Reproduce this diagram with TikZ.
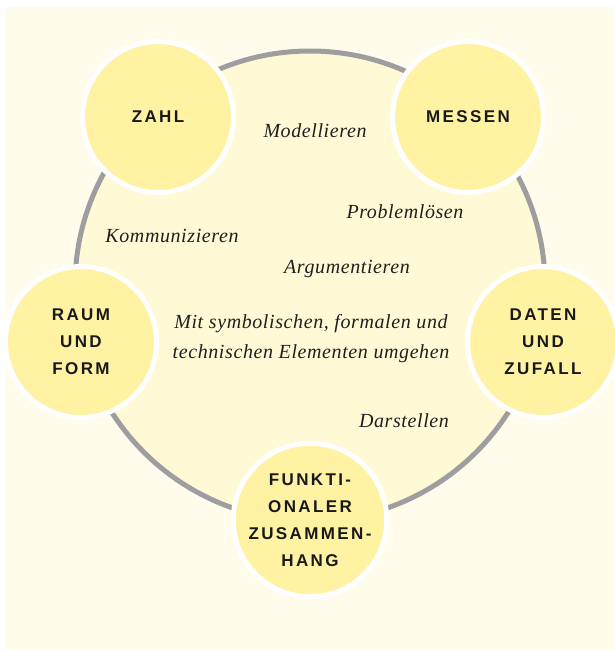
\documentclass[tikz,border=0pt]{standalone}
\usepackage{fontspec}
\setmainfont{Liberation Serif}
\newfontfamily\areafont[LetterSpace=14]{Liberation Sans}
\newfontfamily\skillfont[LetterSpace=3]{Liberation Serif}
\definecolor{paper}{RGB}{255,252,235}
\definecolor{cream}{RGB}{255,249,214}
\definecolor{lemon}{RGB}{255,243,163}
\definecolor{ring}{RGB}{158,158,160}
\begin{document}
\begin{tikzpicture}[x=1pt,y=-1pt,
  area/.style={circle,fill=lemon,draw=white,line width=5pt,minimum size=151pt,inner sep=0pt,align=center,text=black!90,font=\areafont\bfseries\fontsize{17}{27}\selectfont},
  skill/.style={font=\skillfont\itshape\fontsize{20}{30}\selectfont,align=center,inner sep=0pt,text=black!88}]
\useasboundingbox (0,0) rectangle (614,650);
\fill [paper] (5,7) rectangle (614,650);
\draw [ring,fill=cream,line width=5pt] (310,286) circle [radius=235];
\node [area] (zahl) at (158,117) {ZAHL};
\node [area] (messen) at (468,117) {MESSEN};
\node [area] (raum) at (81,342) {RAUM\\UND\\FORM};
\node [area] (daten) at (543,342) {DATEN\\UND\\ZUFALL};
\node [area] (funkt) at (310,520) {FUNKTI-\\ONALER\\ZUSAMMEN-\\HANG};
\node [skill,anchor=base] (modell) at (315,137) {Modellieren};
\node [skill,anchor=base] (problem) at (405,218) {Problemlösen};
\node [skill,anchor=base] (kommu) at (172,242) {Kommunizieren};
\node [skill,anchor=base] (argu) at (347,273) {Argumentieren};
\node [skill] (umgehen) at (311,339) {Mit symbolischen, formalen und\\technischen Elementen umgehen};
\node [skill,anchor=base] (darst) at (404,427) {Darstellen};
\end{tikzpicture}
\end{document}
